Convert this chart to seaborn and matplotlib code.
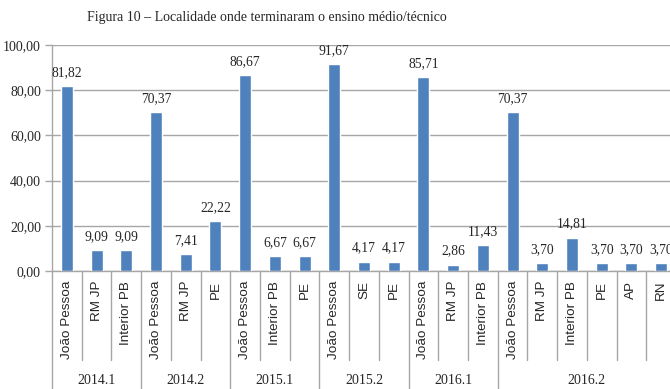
import matplotlib
matplotlib.use("Agg")
import matplotlib.pyplot as plt
import seaborn as sns
import pandas as pd
from matplotlib.transforms import blended_transform_factory

# Semesters and the places where students finished secondary/technical school
semesters = ["2014.1", "2014.2", "2015.1", "2015.2", "2016.1", "2016.2"]
locations = [
    ["João Pessoa", "RM JP", "Interior PB"],
    ["João Pessoa", "RM JP", "PE"],
    ["João Pessoa", "Interior PB", "PE"],
    ["João Pessoa", "SE", "PE"],
    ["João Pessoa", "RM JP", "Interior PB"],
    ["João Pessoa", "RM JP", "Interior PB", "PE", "AP", "RN"],
]
percentages = [
    [81.82, 9.09, 9.09],
    [70.37, 7.41, 22.22],
    [86.67, 6.67, 6.67],
    [91.67, 4.17, 4.17],
    [85.71, 2.86, 11.43],
    [70.37, 3.70, 14.81, 3.70, 3.70, 3.70],
]
y_ticks = [0, 20, 40, 60, 80, 100]

rows = []
for sem, locs, vals in zip(semesters, locations, percentages):
    for loc, v in zip(locs, vals):
        rows.append({"key": f"{sem}|{loc}", "semester": sem, "local": loc, "pct": v})
df = pd.DataFrame(rows)

sns.set_style("white")
plt.rcParams["font.family"] = ["Liberation Serif", "DejaVu Serif"]

W, H = 670, 389
fig = plt.figure(figsize=(W / 100, H / 100), dpi=100)
ax = fig.add_axes([52 / W, (H - 271) / H, (676 - 52) / W, (271 - 45) / H])

sns.barplot(data=df, x="key", y="pct", order=list(df["key"]), color="#4F81BD",
            saturation=1, width=0.4, ax=ax, zorder=3)

ax.set_ylim(0, 100)
ax.set_xlim(-0.5, len(df) - 0.5)
ax.set_yticks(y_ticks)
ax.set_yticklabels([f"{t:.2f}".replace(".", ",") for t in y_ticks], fontsize=10)
ax.yaxis.grid(True, color="#A6A6A6", lw=1, zorder=0)
ax.xaxis.grid(False)
ax.set_xlabel("")
ax.set_ylabel("")
ax.tick_params(axis="y", length=5, width=1, color="#A6A6A6", pad=3, direction="out", left=True)
ax.tick_params(axis="x", length=0, pad=7)
ax.set_xticks(range(len(df)))
ax.set_xticklabels(df["local"], rotation=90, va="top", ha="center",
                   fontfamily="Liberation Sans", fontsize=9.7)

for side in ["top", "right"]:
    ax.spines[side].set_visible(False)
for side in ["left", "bottom"]:
    ax.spines[side].set_color("#A6A6A6")
    ax.spines[side].set_linewidth(1)

# Value labels on top of each bar
for i, v in enumerate(df["pct"]):
    ax.annotate(f"{v:.2f}".replace(".", ","), (i, v), xytext=(0, 5),
                textcoords="offset points", ha="center", va="bottom", fontsize=9.8)

# Two-level category axis: separators and semester labels
tr = blended_transform_factory(ax.transData, ax.transAxes)
bottom_fig = -(H - 271) / (271 - 45)
inner_end = -(360 - 271) / (271 - 45)
pos = 0
for sem, locs in zip(semesters, locations):
    n = len(locs)
    ax.plot([pos - 0.5, pos - 0.5], [0, bottom_fig], transform=tr, clip_on=False,
             color="#A6A6A6", lw=1)
    for k in range(1, n):
        b = pos + k - 0.5
        ax.plot([b, b], [0, inner_end], transform=tr, clip_on=False,
                color="#A6A6A6", lw=1)
    ax.text(pos + (n - 1) / 2, -(381 - 271) / (271 - 45), sem, transform=tr,
            ha="center", va="center", fontsize=10)
    pos += n

fig.text(267 / W, 1 - 17 / H, "Figura 10 – Localidade onde terminaram o ensino médio/técnico",
         ha="center", va="center", fontsize=10)

fig.savefig("out.png", dpi=100)
